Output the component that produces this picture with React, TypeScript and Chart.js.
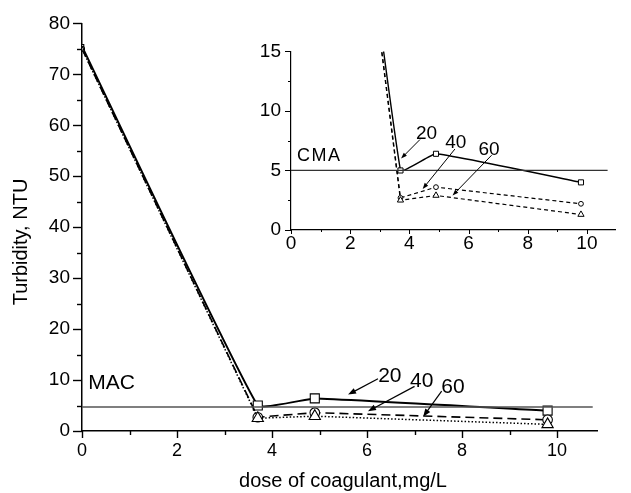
import React, { useEffect, useRef } from "react";
import { Chart, registerables } from "chart.js";

Chart.register(...registerables);

// ---- data ----
const doses = [0, 3.7, 4.9, 9.8];
const turb20 = [75.5, 5.0, 6.4, 4.0];
const turb40 = [75.0, 2.7, 3.6, 2.2];
const turb60 = [75.0, 2.5, 2.9, 1.3];
const seriesNames = ["20", "40", "60"];
const macLimit = 4.7;
const cmaLimit = 5.0;

const mainXTicks = [0, 2, 4, 6, 8, 10];
const mainXMinor = [1, 3, 5, 7, 9];
const mainYTicks = [0, 10, 20, 30, 40, 50, 60, 70, 80];
const mainYMinor = [5, 15, 25, 35, 45, 55, 65, 75];
const insetXTicks = [0, 2, 4, 6, 8, 10];
const insetXMinor = [1, 3, 5, 7, 9];
const insetYTicks = [0, 5, 10, 15];
const insetYMinor = [2.5, 7.5, 12.5];

const FONT = "'Liberation Sans', Arial, sans-serif";

const pts = (ys: number[]) => doses.map((x, i) => ({ x, y: ys[i] }));

// draws tick marks (major + minor) through the chart's scales
const tickMarks = {
  id: "tickMarks",
  afterDraw(chart: any, _args: any, opts: any) {
    const ctx = chart.ctx;
    const ca = chart.chartArea;
    ctx.save();
    ctx.strokeStyle = "#000";
    ctx.lineWidth = opts.width || 1.2;
    const xs = chart.scales.x;
    const ys = chart.scales.y;
    const drawX = (vals: number[], len: number) => {
      vals.forEach((v) => {
        const p = Math.round(xs.getPixelForValue(v)) + 0.5;
        ctx.beginPath();
        ctx.moveTo(p, ca.bottom);
        ctx.lineTo(p, ca.bottom + len);
        ctx.stroke();
      });
    };
    const drawY = (vals: number[], len: number) => {
      vals.forEach((v) => {
        const p = Math.round(ys.getPixelForValue(v)) + 0.5;
        ctx.beginPath();
        ctx.moveTo(ca.left, p);
        ctx.lineTo(ca.left - len, p);
        ctx.stroke();
      });
    };
    drawX(opts.xMajor, opts.xMajorLen);
    drawX(opts.xMinor, opts.xMinorLen);
    drawY(opts.yMajor, opts.yMajorLen);
    drawY(opts.yMinor, opts.yMinorLen);
    ctx.restore();
  },
};

// labels + arrows placed in data coordinates
const annot = {
  id: "annot",
  afterDraw(chart: any, _args: any, opts: any) {
    const ctx = chart.ctx;
    const xs = chart.scales.x;
    const ys = chart.scales.y;
    ctx.save();
    ctx.fillStyle = "#000";
    ctx.strokeStyle = "#000";
    (opts.texts || []).forEach((t: any) => {
      ctx.font = `${t.size}px ${FONT}`;
      ctx.textAlign = t.align || "center";
      ctx.textBaseline = "middle";
      (ctx as any).letterSpacing = t.spacing ? `${t.spacing}px` : "0px";
      ctx.fillText(t.text, xs.getPixelForValue(t.x), ys.getPixelForValue(t.y));
      (ctx as any).letterSpacing = "0px";
    });
    (opts.arrows || []).forEach((a: any) => {
      const x1 = xs.getPixelForValue(a.x1);
      const y1 = ys.getPixelForValue(a.y1);
      const x2 = xs.getPixelForValue(a.x2);
      const y2 = ys.getPixelForValue(a.y2);
      const ang = Math.atan2(y2 - y1, x2 - x1);
      const hl = opts.headLen || 7;
      const hw = opts.headW || 2.6;
      ctx.lineWidth = opts.arrowWidth || 1.2;
      ctx.beginPath();
      ctx.moveTo(x1, y1);
      ctx.lineTo(x2 - Math.cos(ang) * hl * 0.8, y2 - Math.sin(ang) * hl * 0.8);
      ctx.stroke();
      ctx.beginPath();
      ctx.moveTo(x2, y2);
      ctx.lineTo(x2 - Math.cos(ang) * hl - Math.sin(ang) * hw, y2 - Math.sin(ang) * hl + Math.cos(ang) * hw);
      ctx.lineTo(x2 - Math.cos(ang) * hl + Math.sin(ang) * hw, y2 - Math.sin(ang) * hl - Math.cos(ang) * hw);
      ctx.closePath();
      ctx.fill();
    });
    (opts.titles || []).forEach((t: any) => {
      ctx.font = `${t.size}px ${FONT}`;
      ctx.textAlign = "center";
      ctx.textBaseline = "middle";
      ctx.save();
      ctx.translate(t.px, t.py);
      ctx.rotate(t.rot || 0);
      ctx.fillText(t.text, 0, 0);
      ctx.restore();
    });
    ctx.restore();
  },
};

function App() {
  const mainRef = useRef<HTMLCanvasElement>(null);
  const insetRef = useRef<HTMLCanvasElement>(null);

  useEffect(() => {
    const mainChart = new Chart(mainRef.current!, {
      type: "scatter",
      data: {
        datasets: [
          {
            label: "MAC",
            data: [{ x: 0, y: macLimit }, { x: 10.75, y: macLimit }],
            showLine: true,
            borderColor: "#555",
            borderWidth: 1.5,
            pointRadius: 0,
          },
          {
            label: seriesNames[2],
            data: pts(turb60),
            showLine: true,
            borderColor: "#000",
            borderWidth: 1.5,
            borderDash: [1.5, 2],
            pointStyle: "triangle",
            pointRadius: (c: any) => (c.dataIndex === 0 ? 2.5 : 6.5),
            pointBorderWidth: 1.1,
            pointBackgroundColor: "#fff",
            pointBorderColor: "#000",
          },
          {
            label: seriesNames[1],
            data: pts(turb40),
            showLine: true,
            borderColor: "#000",
            borderWidth: 1.6,
            borderDash: [9, 5],
            pointStyle: "circle",
            pointRadius: (c: any) => (c.dataIndex === 0 ? 2.5 : 4.8),
            pointBorderWidth: 1.1,
            pointBackgroundColor: "#fff",
            pointBorderColor: "#000",
          },
          {
            label: seriesNames[0],
            data: pts(turb20),
            showLine: true,
            borderColor: "#000",
            borderWidth: 2,
            tension: 0.1,
            pointStyle: "rect",
            pointRadius: (c: any) => (c.dataIndex === 0 ? 2.5 : 6.4),
            pointBorderWidth: 1.1,
            pointBackgroundColor: "#fff",
            pointBorderColor: "#000",
          },
        ],
      },
      options: {
        animation: false,
        responsive: false,
        layout: { padding: { top: 20, right: 34, left: 0, bottom: 0 } },
        plugins: {
          legend: { display: false },
          tooltip: { enabled: false },
          tickMarks: {
            xMajor: mainXTicks,
            xMinor: mainXMinor,
            yMajor: mainYTicks,
            yMinor: mainYMinor,
            xMajorLen: 7,
            xMinorLen: 4,
            yMajorLen: 9,
            yMinorLen: 5,
            width: 1.4,
          },
          annot: {
            texts: [
              { text: "MAC", x: 0.13, y: 9.3, size: 21, align: "left" },
              { text: seriesNames[0], x: 6.48, y: 10.7, size: 21 },
              { text: seriesNames[1], x: 7.15, y: 9.7, size: 21 },
              { text: seriesNames[2], x: 7.81, y: 8.5, size: 21 },
            ],
            arrows: [
              { x1: 6.23, y1: 10.26, x2: 5.6, y2: 7.14 },
              { x1: 7.0, y1: 8.76, x2: 6.02, y2: 3.89 },
              { x1: 7.57, y1: 7.84, x2: 7.18, y2: 2.78 },
            ],
            titles: [
              { text: "Turbidity, NTU", px: 21, py: 242, size: 20, rot: -Math.PI / 2 },
              { text: "dose of coagulant,mg/L", px: 343, py: 481, size: 20 },
            ],
            headLen: 8,
            headW: 3,
          },
        } as any,
        scales: {
          x: {
            type: "linear",
            min: 0,
            max: 10.84,
            afterBuildTicks: (s: any) => {
              s.ticks = mainXTicks.map((v) => ({ value: v }));
            },
            afterFit: (s: any) => {
              s.height = 62;
            },
            grid: { display: false, drawTicks: false },
            border: { display: true, color: "#000", width: 1.5 },
            ticks: {
              padding: 9,
              color: "#000",
              font: { family: FONT, size: 18 },
              maxRotation: 0,
              autoSkip: false,
            },
          },
          y: {
            type: "linear",
            min: 0,
            max: 80,
            afterBuildTicks: (s: any) => {
              s.ticks = mainYTicks.map((v) => ({ value: v }));
            },
            afterFit: (s: any) => {
              s.width = 82;
            },
            grid: { display: false, drawTicks: false },
            border: { display: true, color: "#000", width: 1.5 },
            ticks: {
              padding: 12,
              color: "#000",
              font: { family: FONT, size: 19 },
              autoSkip: false,
            },
          },
        },
      },
      plugins: [tickMarks, annot],
    } as any);

    const insetChart = new Chart(insetRef.current!, {
      type: "scatter",
      data: {
        datasets: [
          {
            label: "CMA",
            data: [{ x: 0, y: cmaLimit }, { x: 10.7, y: cmaLimit }],
            showLine: true,
            borderColor: "#333",
            borderWidth: 1.2,
            pointRadius: 0,
          },
          {
            label: seriesNames[2],
            data: pts(turb60),
            showLine: true,
            borderColor: "#000",
            borderWidth: 1.2,
            borderDash: [4, 3],
            pointStyle: "triangle",
            pointRadius: 3.6,
            pointBorderWidth: 1,
            pointBackgroundColor: "#fff",
            pointBorderColor: "#000",
          },
          {
            label: seriesNames[1],
            data: pts(turb40),
            showLine: true,
            borderColor: "#000",
            borderWidth: 1.2,
            borderDash: [4, 3],
            pointStyle: "circle",
            pointRadius: 2.4,
            pointBorderWidth: 1,
            pointBackgroundColor: "#fff",
            pointBorderColor: "#000",
          },
          {
            label: seriesNames[0],
            data: pts(turb20),
            showLine: true,
            borderColor: "#000",
            borderWidth: 1.4,
            tension: 0.1,
            pointStyle: "rect",
            pointRadius: 3.6,
            pointBorderWidth: 1,
            pointBackgroundColor: "#fff",
            pointBorderColor: "#000",
          },
        ],
      },
      options: {
        animation: false,
        responsive: false,
        layout: { padding: { top: 12, right: 16, left: 0, bottom: 0 } },
        plugins: {
          legend: { display: false },
          tooltip: { enabled: false },
          tickMarks: {
            xMajor: insetXTicks,
            xMinor: insetXMinor,
            yMajor: insetYTicks,
            yMinor: insetYMinor,
            xMajorLen: 4,
            xMinorLen: 2,
            yMajorLen: 6,
            yMinorLen: 3,
            width: 1,
          },
          annot: {
            texts: [
              { text: "CMA", x: 0.2, y: 6.2, size: 18, align: "left", spacing: 1.5 },
              { text: seriesNames[0], x: 4.58, y: 8.1, size: 19 },
              { text: seriesNames[1], x: 5.57, y: 7.3, size: 19 },
              { text: seriesNames[2], x: 6.69, y: 6.7, size: 19 },
            ],
            arrows: [
              { x1: 4.36, y1: 7.6, x2: 3.72, y2: 6.0 },
              { x1: 5.54, y1: 6.8, x2: 4.45, y2: 3.45 },
              { x1: 6.78, y1: 6.28, x2: 5.46, y2: 2.9 },
            ],
            headLen: 6,
            headW: 2.2,
            arrowWidth: 1,
          },
        } as any,
        scales: {
          x: {
            type: "linear",
            min: 0,
            max: 10.95,
            afterBuildTicks: (s: any) => {
              s.ticks = insetXTicks.map((v) => ({ value: v }));
            },
            afterFit: (s: any) => {
              s.height = 30;
            },
            grid: { display: false, drawTicks: false },
            border: { display: true, color: "#000", width: 1.2 },
            ticks: {
              padding: 2,
              color: "#000",
              font: { family: FONT, size: 19 },
              maxRotation: 0,
              autoSkip: false,
            },
          },
          y: {
            type: "linear",
            min: 0,
            max: 15,
            afterBuildTicks: (s: any) => {
              s.ticks = insetYTicks.map((v) => ({ value: v }));
            },
            afterFit: (s: any) => {
              s.width = 51;
            },
            grid: { display: false, drawTicks: false },
            border: { display: true, color: "#000", width: 1.2 },
            ticks: {
              padding: 10,
              color: "#000",
              font: { family: FONT, size: 19 },
              autoSkip: false,
            },
          },
        },
      },
      plugins: [tickMarks, annot],
    } as any);

    return () => {
      mainChart.destroy();
      insetChart.destroy();
    };
  }, []);

  return (
    <div style={{ position: "fixed", left: 0, top: 0, width: 631, height: 493, background: "#fff" }}>
      <canvas
        ref={mainRef}
        width={631}
        height={493}
        style={{ position: "absolute", left: 0, top: 0, display: "block" }}
      />
      <canvas
        ref={insetRef}
        width={391}
        height={230}
        style={{ position: "absolute", left: 240, top: 30, display: "block" }}
      />
    </div>
  );
}

export default App;
